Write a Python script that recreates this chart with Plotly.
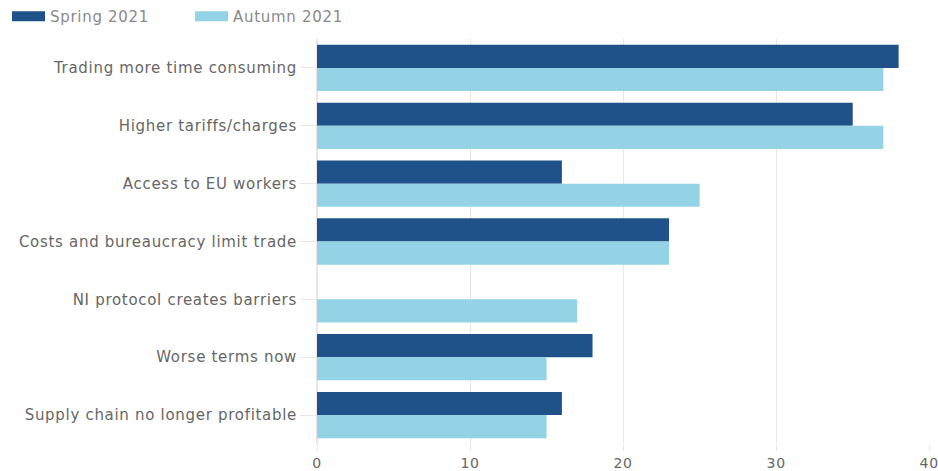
import plotly.graph_objects as go

categories = [
    "Trading more time consuming",
    "Higher tariffs/charges",
    "Access to EU workers",
    "Costs and bureaucracy limit trade",
    "NI protocol creates barriers",
    "Worse terms now",
    "Supply chain no longer profitable",
]
spring_2021 = [38, 35, 16, 23, None, 18, 16]
autumn_2021 = [37, 37, 25, 23, 17, 15, 15]
x_ticks = [0, 10, 20, 30, 40]

SPRING = "#1f5289"
AUTUMN = "#94d3e5"
TEXT = "#666666"
LEGEND_TEXT = "#8a8a8a"
GRID = "#ebe6e3"
FONT = "DejaVu Sans"

fig = go.Figure()
fig.add_trace(go.Bar(y=categories, x=spring_2021, orientation="h", name="Spring 2021",
                     marker=dict(color=SPRING, line=dict(width=0)), showlegend=False,
                     legendgroup="s"))
fig.add_trace(go.Bar(y=categories, x=autumn_2021, orientation="h", name="Autumn 2021",
                     marker=dict(color=AUTUMN, line=dict(width=0)), showlegend=False,
                     legendgroup="a"))
# wide rectangular legend keys
for name, color, grp in [("Spring 2021", SPRING, "s"), ("Autumn 2021", AUTUMN, "a")]:
    fig.add_trace(go.Scatter(x=[None], y=[None], mode="lines", name=name,
                             line=dict(color=color, width=12), legendgroup=grp))

fig.update_layout(
    width=938, height=471,
    margin=dict(l=317, r=8, t=39, b=27, autoexpand=False),
    paper_bgcolor="white", plot_bgcolor="white",
    font=dict(family=FONT, size=15, color=TEXT),
    barmode="group", bargap=0.2, bargroupgap=0,
    showlegend=True,
    legend=dict(orientation="h", xref="container", yref="container",
                x=0.0075, y=1.0, xanchor="left", yanchor="top",
                itemwidth=33, entrywidth=135, entrywidthmode="pixels",
                font=dict(family=FONT, size=15, color=LEGEND_TEXT), traceorder="normal"),
    xaxis=dict(range=[0, 40.05], tickvals=x_ticks, showgrid=True, gridcolor=GRID,
               gridwidth=1, zeroline=True, zerolinecolor=GRID, showline=False,
               ticks="outside", ticklen=6, tickcolor=GRID,
               tickfont=dict(size=14),
               ticklabeloverflow="allow", automargin=False, fixedrange=True),
    yaxis=dict(categoryorder="array", categoryarray=categories, autorange="reversed",
               showgrid=False, ticks="outside", ticklen=16, tickcolor=GRID,
               showline=False, zeroline=False, automargin=False, fixedrange=True),
)

# slightly open tracking on the axis and legend labels
spacing_js = (
    "document.querySelectorAll('.ytick text, .xtick text, .legendtext')"
    ".forEach(function(t){t.style.letterSpacing='0.7px';});"
)
fig.write_html("out.html", post_script=spacing_js)
